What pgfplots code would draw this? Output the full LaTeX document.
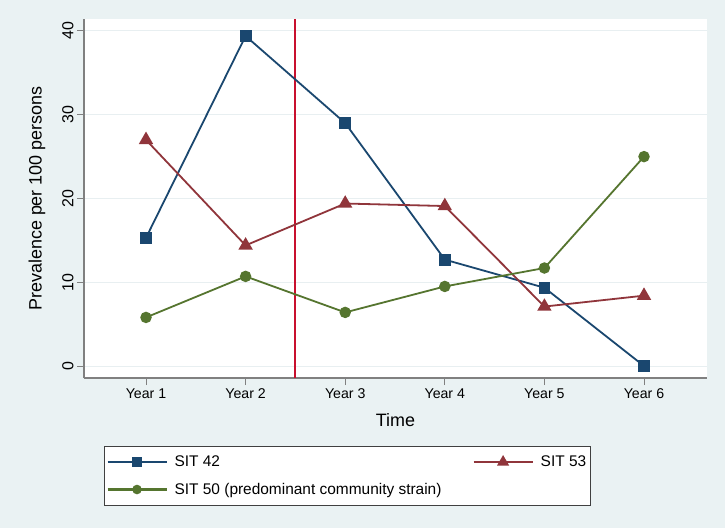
\documentclass[border=0pt]{standalone}
\usepackage{fontspec}
\setmainfont{Liberation Sans}
\usepackage{pgfplots}
\pgfplotsset{compat=1.18}

\definecolor{bgcol}{RGB}{234,242,243}
\definecolor{gridcol}{RGB}{232,239,241}
\definecolor{axcol}{RGB}{128,128,128}
\definecolor{sitnavy}{RGB}{26,71,111}
\definecolor{sitmaroon}{RGB}{144,53,59}
\definecolor{sitgreen}{RGB}{85,117,47}
\definecolor{vline}{RGB}{200,16,46}

\begin{document}
\begin{tikzpicture}
\fill[bgcol] (0,0) rectangle (725bp,528bp);
\begin{axis}[
    at={(84bp,150bp)}, anchor=south west,
    width=623bp, height=359bp, scale only axis,
    axis background/.style={fill=white},
    xmin=0.3775, xmax=6.6325,
    ymin=-1.43, ymax=41.43,
    axis lines*=left,
    axis line style={axcol, line width=1.4bp},
    tick align=outside,
    major tick length=7bp,
    tick style={axcol, line width=1bp},
    xtick={1,2,3,4,5,6},
    xticklabels={Year 1,Year 2,Year 3,Year 4,Year 5,Year 6},
    ytick={0,10,20,30,40},
    ymajorgrids=true,
    grid style={gridcol, line width=1bp},
    /pgf/number format/assume math mode=true,
    xticklabel style={font=\fontsize{14.2}{16}\selectfont},
    yticklabel style={font=\fontsize{16}{18}\selectfont, rotate=90, anchor=south},
    xlabel={Time},
    ylabel={Prevalence per 100 persons},
    xlabel style={font=\fontsize{18}{20}\selectfont, at={(axis description cs:0.5,-0.117)}, anchor=center},
    ylabel style={font=\fontsize{18}{20}\selectfont, at={(axis description cs:-0.0754,0.5)}, anchor=center},
    legend columns=2,
    legend cell align=left,
    legend image code/.code={
        \draw[#1, line width=2.2bp] (0bp,0bp) -- (59bp,0bp);
        \draw[#1, every mark/.append style={scale=0.8}] plot coordinates {(29.5bp,0bp)};
    },
    legend style={
        at={(axis description cs:0.0321,-0.1894)}, anchor=north west,
        draw=black!75, fill=white, line width=0.8bp,
        inner xsep=2bp, inner ysep=4bp, row sep=4bp,
        nodes={inner xsep=2bp, inner ysep=5.5bp},
        font=\fontsize{15.5}{18}\selectfont,
        /tikz/column 1/.style={column sep=5bp},
        /tikz/column 2/.style={column sep=29bp},
        /tikz/column 3/.style={column sep=5bp},
    },
]
\addplot[color=vline, line width=2bp, forget plot] coordinates {(2.5,-1.43) (2.5,41.43)};

\addplot[color=sitnavy, line width=1.8bp, mark=square*, mark size=5bp, mark options={solid}] coordinates {
    (1,15.3) (2,39.4) (3,29.0) (4,12.7) (5,9.35) (6,0)
};
\addlegendentry{SIT 42}

\addplot[color=sitmaroon, line width=1.8bp, mark=triangle*, mark size=6.5bp, mark options={solid}] coordinates {
    (1,27.0) (2,14.4) (3,19.4) (4,19.1) (5,7.1) (6,8.4)
};
\addlegendentry{SIT 53}

\addplot[color=sitgreen, line width=1.8bp, mark=*, mark size=4.8bp, mark options={solid}] coordinates {
    (1,5.8) (2,10.7) (3,6.4) (4,9.5) (5,11.7) (6,25.0)
};
\addlegendentry{SIT 50 (predominant community strain)}
\end{axis}
\pgfresetboundingbox
\path[use as bounding box] (0,0) rectangle (725bp,528bp);
\end{tikzpicture}
\end{document}
